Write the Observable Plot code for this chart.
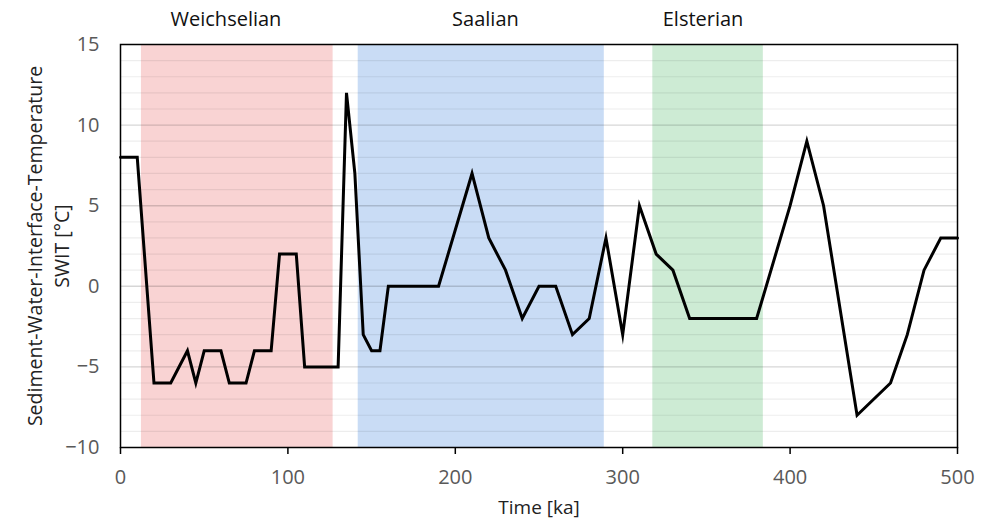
<!DOCTYPE html>
<html>
<head>
<meta charset="utf-8">
<script src="https://cdn.jsdelivr.net/npm/d3@7"></script>
<script src="https://cdn.jsdelivr.net/npm/@observablehq/plot@0.6"></script>
<style>
  html, body { margin: 0; padding: 0; background: #fff; }
</style>
</head>
<body>
<div id="chart"></div>
<script>
// Time in ka and sediment-water-interface temperature in °C
const time = [0,10,20,30,40,45,50,60,65,75,80,90,95,105,110,130,135,140,145,150,155,160,190,210,220,230,240,250,260,270,280,290,300,310,320,330,340,380,400,410,420,440,460,470,480,490,500];
const swit = [8,8,-6,-6,-4,-6,-4,-4,-6,-6,-4,-4,2,2,-5,-5,12,7,-3,-4,-4,0,0,7,3,1,-2,0,0,-3,-2,3,-3,5,2,1,-2,-2,5,9,5,-8,-6,-3,1,3,3];

// Glacial periods
const periodNames = ["Weichselian", "Saalian", "Elsterian"];
const periodStart = [12.5, 142, 318];
const periodEnd = [127, 289, 384];
const periodLabelX = [63, 218, 348];
const periodColors = ["#f9d3d3", "#c9dcf5", "#cdebd4"];

const xTicks = [0, 100, 200, 300, 400, 500];
const yTicks = [-10, -5, 0, 5, 10, 15];
const minorGrid = d3.range(-9, 15).filter(v => v % 5 !== 0);
const majorGrid = [-5, 0, 5, 10];

const series = time.map((t, i) => ({t, v: swit[i]}));
const periods = periodNames.map((name, i) => ({name, x1: periodStart[i], x2: periodEnd[i], lx: periodLabelX[i], color: periodColors[i]}));

const chart = Plot.plot({
  width: 989,
  height: 525,
  marginLeft: 120,
  marginRight: 32,
  marginTop: 44,
  marginBottom: 78,
  style: {fontFamily: "'Open Sans', sans-serif", fontSize: "18px", background: "#fff"},
  x: {domain: [0, 500]},
  y: {domain: [-10, 15]},
  marks: [
    Plot.rectX(periods, {x1: "x1", x2: "x2", y1: -10, y2: 15, fill: "color"}),
    Plot.ruleY(minorGrid, {stroke: "#000", strokeOpacity: 0.07, strokeWidth: 1.2}),
    Plot.ruleY(majorGrid, {stroke: "#000", strokeOpacity: 0.16, strokeWidth: 1.4}),
    Plot.line(series, {x: "t", y: "v", stroke: "#000", strokeWidth: 3, strokeLinejoin: "miter", strokeMiterlimit: 10}),
    Plot.frame({stroke: "#000", strokeWidth: 1.5}),
    Plot.axisY({ticks: yTicks, tickSize: 0, tickPadding: 21, fill: "#595959", stroke: "#000", fontSize: 20, label: null}),
    Plot.axisX({ticks: xTicks, tickSize: 7, tickPadding: 15, fill: "#595959", stroke: "#000", strokeWidth: 1.5, fontSize: 20, label: null}),
    Plot.text(periods, {x: "lx", y: 15, text: "name", dy: -25, fill: "#111", fontSize: 20}),
    Plot.text(["Sediment-Water-Interface-Temperature"], {frameAnchor: "left", textAnchor: "middle", dx: -85, rotate: -90, text: d => d, fill: "#222", fontSize: 19.5}),
    Plot.text(["SWIT [°C]"], {frameAnchor: "left", textAnchor: "middle", dx: -58, rotate: -90, text: d => d, fill: "#222", fontSize: 19.5}),
    Plot.text(["Time [ka]"], {frameAnchor: "bottom", dy: 66, text: d => d, fill: "#222", fontSize: 19})
  ]
});
document.getElementById("chart").appendChild(chart);
</script>
</body>
</html>
